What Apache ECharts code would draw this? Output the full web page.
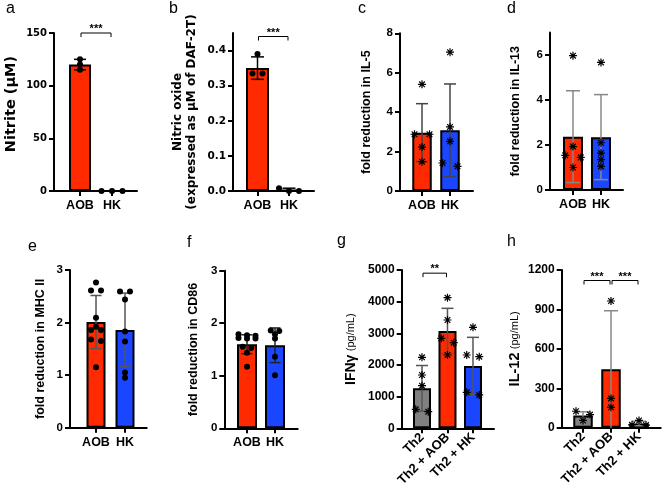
<!DOCTYPE html>
<html><head><meta charset="utf-8">
<script src="https://cdn.jsdelivr.net/npm/echarts@6/dist/echarts.min.js"></script>
<style>html,body{margin:0;padding:0;background:#fff}#c{width:668px;height:492px}</style>
</head><body><div id="c"></div>
<script>
// ================= DATA =================
const groupsTwo = ['AOB', 'HK'];
const groupsThree = ['Th2', 'Th2 + AOB', 'Th2 + HK'];

// a: Nitrite (µM)
const nitriteMean = [120, 0];
const nitriteSD = [5, 0];
const nitriteAOB = [125, 120, 115];
const nitriteHK = [0, 0, 0];
const nitriteTicks = [0, 50, 100, 150];
const nitriteSig = [[0, 1, 150, '***']];

// b: Nitric oxide (µM of DAF-2T)
const noMean = [0.35, 0.003];
const noSD = [0.032, 0.005];
const noAOB = [0.39, 0.335, 0.335];
const noHK = [0.008, 0, 0];
const noTicks = [0, 0.1, 0.2, 0.3, 0.4];
const noSig = [[0, 1, 0.44, '***']];

// c: fold reduction in IL-5
const il5Mean = [2.96, 3.08];
const il5SD = [1.47, 2.35];
const il5AOB = [5.41, 2.88, 2.88, 2.23, 1.49];
const il5HK = [7.04, 3.25, 2.52, 1.42, 1.25];
const il5Ticks = [0, 2, 4, 6, 8];

// d: fold reduction in IL-13
const il13Mean = [2.37, 2.35];
const il13SD = [2.04, 1.89];
const il13AOB = [5.97, 1.93, 1.54, 1.45, 1.0];
const il13HK = [5.67, 2.1, 1.64, 1.35, 1.05];
const il13Ticks = [0, 2, 4, 6];

// e: fold reduction in MHC II
const mhcMean = [2.01, 1.86];
const mhcSD = [0.505, 0.70];
const mhcAOB = [2.76, 2.61, 2.61, 2.09, 1.92, 1.86, 1.86, 1.68, 1.65, 1.15];
const mhcHK = [2.59, 2.59, 2.44, 1.83, 1.64, 1.05, 0.95];
const mhcTicks = [0, 1, 2, 3];

// f: fold reduction in CD86
const cd86Mean = [1.60, 1.58];
const cd86SD = [0.18, 0.33];
const cd86AOB = [1.79, 1.77, 1.76, 1.72, 1.71, 1.71, 1.55, 1.53, 1.44, 1.17];
const cd86HK = [1.86, 1.85, 1.79, 1.71, 1.36, 1.01];
const cd86Ticks = [0, 1, 2, 3];

// g: IFNγ (pg/mL)
const ifnMean = [1263, 3074, 1968];
const ifnSD = [720, 715, 905];
const ifnTh2 = [2242, 1684, 1347, 600, 526];
const ifnAOB = [4126, 3421, 2842, 2705, 2316];
const ifnHK = [3189, 2316, 2263, 1137, 1053];
const ifnTicks = [0, 1000, 2000, 3000, 4000, 5000];
const ifnSig = [[0, 1, 4900, '**']];

// h: IL-12 (pg/mL)
const il12Mean = [93, 444, 32];
const il12SD = [28, 446, 17];
const il12Th2 = [125, 100, 55];
const il12AOB = [964, 223, 155];
const il12HK = [55, 22, 20];
const il12Ticks = [0, 300, 600, 900, 1200];
const il12Sig = [[0, 1, 1120, '***'], [1, 2, 1120, '***']];

// ================= STYLE / LAYOUT =================
const RED = '#ff2a00', BLUE = '#1b46ff', GREY = '#808080';
const ARIAL = '"Liberation Sans", Arial, sans-serif';
const DEJAVU = '"DejaVu Sans", sans-serif';

const panels = [
  {letter:'a', lp:[6,15], box:[54,33,83,158], xr:[-0.8125,1.78], ymax:150, yTicks:nitriteTicks, cats:groupsTwo, colors:[RED,BLUE],
   mean:nitriteMean, sd:nitriteSD, pts:[nitriteAOB,nitriteHK], sig:nitriteSig,
   name:'Nitrite (μM)', nameGap:35, nameStyle:{fontFamily:DEJAVU, fontSize:14.5, fontWeight:'bold', padding:[0,0,0,16]},
   tickStyle:{fontFamily:DEJAVU, fontSize:10}, fmt:v=>String(v), marker:'dot', mSize:6, step:10.5, thr:3, barW:22, errColor:'#000', cap:12},
  {letter:'b', lp:[169,15], box:[233,33,81,158], xr:[-0.778,1.794], ymax:0.45, yTicks:noTicks, cats:groupsTwo, colors:[RED,BLUE],
   mean:noMean, sd:noSD, pts:[noAOB,noHK], sig:noSig,
   name:'Nitric oxide\n(expressed as μM of DAF-2T)', nameGap:34, nameStyle:{fontFamily:DEJAVU, fontSize:12, fontWeight:'bold', lineHeight:14},
   tickStyle:{fontFamily:DEJAVU, fontSize:10.5}, fmt:v=>v.toFixed(1), marker:'dot', mSize:6, step:10, thr:3, barW:23, errColor:'#000', cap:13},
  {letter:'c', lp:[358,15], box:[400,33.3,73,157.7], xr:[-0.786,1.821], ymax:8, yTicks:il5Ticks, cats:groupsTwo, colors:[RED,BLUE],
   mean:il5Mean, sd:il5SD, pts:[il5AOB,il5HK], sig:[],
   name:'fold reduction in IL-5', nameGap:27, nameStyle:{fontFamily:ARIAL, fontSize:12.5, fontWeight:'bold'},
   tickStyle:{fontFamily:ARIAL, fontSize:11.5}, fmt:v=>String(v), marker:'star', mSize:8, step:15, thr:4, barW:19.5, errColor:'#444', cap:12},
  {letter:'d', lp:[507,15], box:[550,32.5,73,157.5], xr:[-0.821,1.786], ymax:7, yTicks:il13Ticks, cats:groupsTwo, colors:[RED,BLUE],
   mean:il13Mean, sd:il13SD, pts:[il13AOB,il13HK], sig:[],
   name:'fold reduction in IL-13', nameGap:28, nameStyle:{fontFamily:ARIAL, fontSize:12.5, fontWeight:'bold'},
   tickStyle:{fontFamily:ARIAL, fontSize:11.5}, fmt:v=>String(v), marker:'star', mSize:8, step:15.5, thr:4, barW:20, errColor:'#888', cap:14},
  {letter:'e', lp:[28,253], box:[70,270,76.7,157.7], xr:[-0.897,1.748], ymax:3, yTicks:mhcTicks, cats:groupsTwo, colors:[RED,BLUE],
   mean:mhcMean, sd:mhcSD, pts:[mhcAOB,mhcHK], sig:[],
   name:'fold reduction in MHC II', nameGap:23, nameStyle:{fontFamily:ARIAL, fontSize:12.5, fontWeight:'bold'},
   tickStyle:{fontFamily:ARIAL, fontSize:11.5}, fmt:v=>String(v), marker:'dot', mSize:6, step:10, thr:3, barW:19, errColor:'#555', cap:11},
  {letter:'f', lp:[187,249], box:[224.3,270.7,73.4,157.6], xr:[-0.811,1.811], ymax:3, yTicks:cd86Ticks, cats:groupsTwo, colors:[RED,BLUE],
   mean:cd86Mean, sd:cd86SD, pts:[cd86AOB,cd86HK], sig:[],
   name:'fold reduction in CD86', nameGap:24, nameStyle:{fontFamily:ARIAL, fontSize:12.5, fontWeight:'bold'},
   tickStyle:{fontFamily:ARIAL, fontSize:11.5}, fmt:v=>String(v), marker:'dot', mSize:6, step:8.5, thr:3.5, barW:20, errColor:'#222', cap:11},
  {letter:'g', lp:[337,247], box:[401.7,270,92.3,158.3], xr:[-0.796,2.824], ymax:5000, yTicks:ifnTicks, cats:groupsThree, colors:[GREY,RED,BLUE],
   mean:ifnMean, sd:ifnSD, pts:[ifnTh2,ifnAOB,ifnHK], sig:ifnSig,
   name:'{b|IFNγ} {s|(pg/mL)}', nameGap:44, nameStyle:{fontFamily:ARIAL, rich:{b:{fontFamily:ARIAL,fontSize:14,fontWeight:'bold'}, s:{fontFamily:ARIAL,fontSize:11}}},
   tickStyle:{fontFamily:ARIAL, fontSize:12}, fmt:v=>String(v), marker:'star', mSize:8, step:12.5, thr:5, barW:18, errColor:'#555', cap:12, rot:45},
  {letter:'h', lp:[507,248], box:[561.7,270,99,157.7], xr:[-0.761,2.775], ymax:1200, yTicks:il12Ticks, cats:groupsThree, colors:[GREY,RED,BLUE],
   mean:il12Mean, sd:il12SD, pts:[il12Th2,il12AOB,il12HK], sig:il12Sig,
   name:'{b|IL-12} {s|(pg/mL)}', nameGap:39, nameStyle:{fontFamily:ARIAL, rich:{b:{fontFamily:ARIAL,fontSize:14.5,fontWeight:'bold'}, s:{fontFamily:ARIAL,fontSize:11}}},
   tickStyle:{fontFamily:ARIAL, fontSize:12}, fmt:v=>String(v), marker:'star', mSize:8, step:14, thr:3.5, barW:19.5, errColor:'#888', cap:14, rot:45}
];

function asteriskPath() {
  const L = 10, h = 1.5; let d = '';
  [0, 45, 90, 135].forEach(a => {
    const r = a * Math.PI / 180, c = Math.cos(r), s = Math.sin(r);
    const q = [[L*c - h*s, L*s + h*c], [L*c + h*s, L*s - h*c], [-L*c + h*s, -L*s - h*c], [-L*c - h*s, -L*s + h*c]];
    d += 'M' + q.map(p => p[0].toFixed(2) + ' ' + p[1].toFixed(2)).join('L') + 'Z';
  });
  return 'path://' + d;
}
const STAR = asteriskPath();

// group points with close values into rows and spread them sideways
function swarm(vals, cat, pxX, pxY, step, thr) {
  const order = vals.map((v, i) => i).sort((a, b) => vals[b] - vals[a]);
  const out = []; let row = [];
  const flush = () => {
    row.forEach((k, i) => {
      const off = (i - (row.length - 1) / 2) * step;
      out.push([cat + off / pxX, vals[k]]);
    });
    row = [];
  };
  order.forEach(k => {
    if (row.length && (vals[row[0]] - vals[k]) * pxY > thr) flush();
    row.push(k);
  });
  flush();
  return out;
}

const option = {animation:false, backgroundColor:'#fff', grid:[], xAxis:[], yAxis:[], series:[], graphic:[]};

panels.forEach((p, k) => {
  const [L, T, W, H] = p.box;
  const pxX = W / (p.xr[1] - p.xr[0]);
  const pxY = H / p.ymax;
  const catIdx = p.cats.map((_, i) => i);
  option.grid.push({left:L, top:T, width:W, height:H, containLabel:false, outerBoundsMode:'none'});
  option.xAxis.push({
    type:'value', gridIndex:k, min:p.xr[0], max:p.xr[1],
    axisLine:{onZero:false, lineStyle:{color:'#000', width:2}},
    axisTick:{customValues:catIdx, length:5, lineStyle:{color:'#000', width:2}},
    axisLabel:{customValues:catIdx, formatter:v => p.cats[Math.round(v)], rotate:p.rot || 0, margin:p.rot ? 7 : 8,
      color:'#000', fontWeight:'bold', fontSize:p.rot ? 13 : 12.5, fontFamily:ARIAL},
    splitLine:{show:false}
  });
  option.yAxis.push({
    type:'value', gridIndex:k, min:0, max:p.ymax,
    axisLine:{onZero:false, lineStyle:{color:'#000', width:2}},
    axisTick:{customValues:p.yTicks, length:5, lineStyle:{color:'#000', width:2}},
    axisLabel:Object.assign({customValues:p.yTicks, formatter:p.fmt, margin:7, color:'#000', fontWeight:'bold'}, p.tickStyle),
    splitLine:{show:false},
    name:p.name, nameLocation:'middle', nameGap:p.nameGap,
    nameTextStyle:Object.assign({color:'#000'}, p.nameStyle)
  });
  // bars
  option.series.push({
    type:'bar', xAxisIndex:k, yAxisIndex:k, barWidth:p.barW, z:2,
    data:p.mean.map((m, i) => ({value:[i, m], itemStyle:{color:p.colors[i], borderColor:'#000', borderWidth:2}}))
  });
  // error bars
  option.series.push({
    type:'custom', xAxisIndex:k, yAxisIndex:k, z:3, encode:{x:0, y:1},
    data:p.mean.map((m, i) => [i, m, p.sd[i]]),
    renderItem:(params, api) => {
      const x = api.value(0), m = api.value(1), s = api.value(2);
      const top = api.coord([x, m + s]);
      const lowV = m - s;
      const bot = api.coord([x, Math.max(lowV, 0)]);
      const st = {stroke:p.errColor, lineWidth:1.5};
      const ch = [
        {type:'line', shape:{x1:top[0], y1:top[1], x2:bot[0], y2:bot[1]}, style:st},
        {type:'line', shape:{x1:top[0]-p.cap/2, y1:top[1], x2:top[0]+p.cap/2, y2:top[1]}, style:st}
      ];
      if (lowV > 0) ch.push({type:'line', shape:{x1:bot[0]-p.cap/2, y1:bot[1], x2:bot[0]+p.cap/2, y2:bot[1]}, style:st});
      return {type:'group', children:ch};
    }
  });
  // points
  p.pts.forEach((vals, i) => {
    option.series.push({
      type:'scatter', xAxisIndex:k, yAxisIndex:k, z:4,
      symbol:p.marker === 'star' ? STAR : 'circle', symbolSize:p.mSize,
      itemStyle:{color:'#000', opacity:1},
      data:swarm(vals, i, pxX, pxY, p.step, p.thr)
    });
  });
  // significance brackets
  if (p.sig.length) {
    option.series.push({
      type:'custom', xAxisIndex:k, yAxisIndex:k, z:5, clip:false, encode:{x:0, y:2},
      data:p.sig.map(s => [s[0], s[1], s[2]]),
      renderItem:(params, api) => {
        const s = p.sig[params.dataIndex];
        const a = api.coord([s[0], s[2]]), b = api.coord([s[1], s[2]]);
        const x1 = a[0] + 1, x2 = b[0] - 1, y = a[1];
        return {type:'group', children:[
          {type:'polyline', shape:{points:[[x1, y + 4], [x1, y], [x2, y], [x2, y + 4]]}, style:{stroke:'#000', lineWidth:1, fill:null}},
          {type:'text', style:{text:s[3], x:(x1 + x2) / 2, y:y - 4, align:'center', verticalAlign:'middle',
            font:'bold 11px "Liberation Sans", Arial', fill:'#000'}}
        ]};
      }
    });
  }
  // panel letter
  option.graphic.push({type:'text', left:p.lp[0], top:p.lp[1] - 14,
    style:{text:p.letter, font:'16px "Liberation Sans", Arial', fill:'#000'}});
});

const chart = echarts.init(document.getElementById('c'), null, {renderer:'canvas'});
chart.setOption(option);
</script>
</body></html>
